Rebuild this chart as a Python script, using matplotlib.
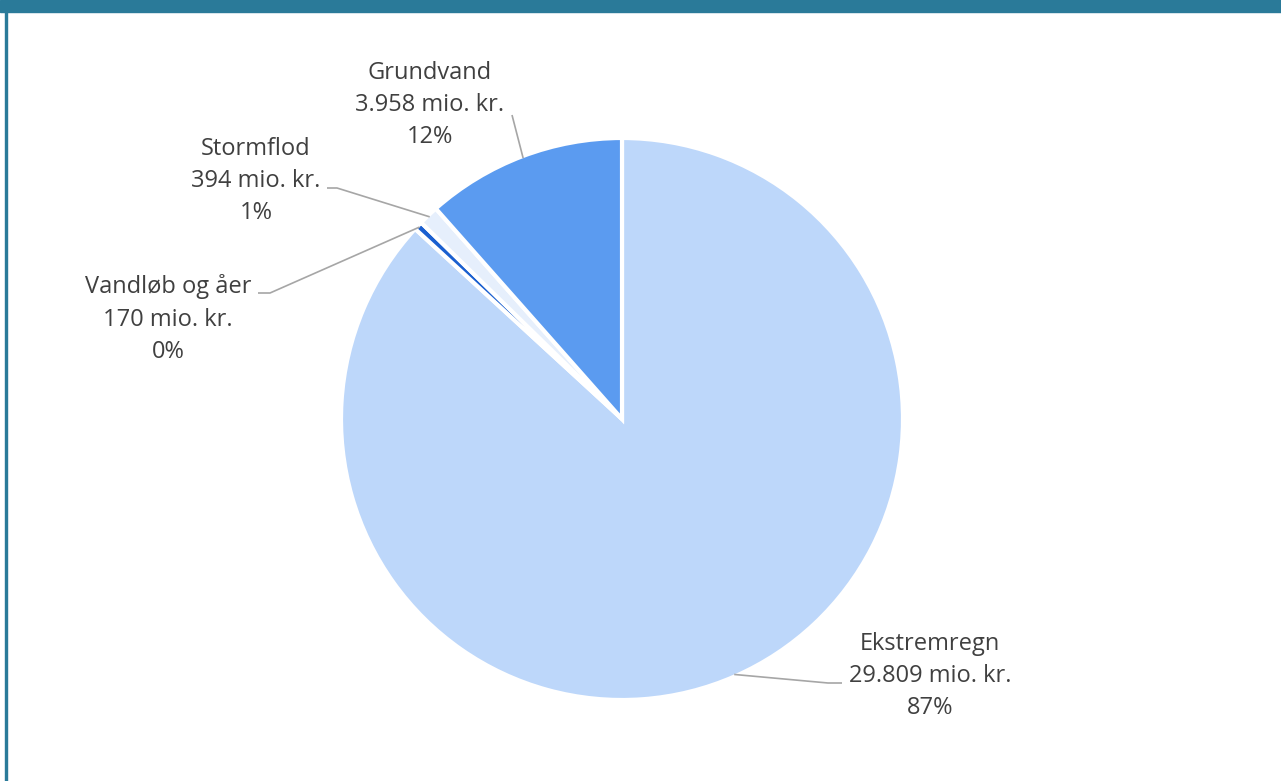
import numpy as np
import matplotlib.pyplot as plt

# damage cost per flood type (mio. kr.), in drawing order clockwise from 12 o'clock
labels = ['Ekstremregn', 'Vandløb og åer', 'Stormflod', 'Grundvand']
values = [29809, 170, 394, 3958]
colors = ['#BDD7FA', '#1A5FD0', '#E6EFFC', '#5B9BF0']

# label text centre (px) and the elbow of each leader line (px)
label_pos = {'Ekstremregn': (930, 676), 'Vandløb og åer': (168, 319),
             'Stormflod': (256, 181), 'Grundvand': (430, 105)}
leader_start = {'Ekstremregn': [(842, 683), (828, 683)],
                'Vandløb og åer': [(258, 293), (270, 293)],
                'Stormflod': [(327, 188), (337, 188)],
                'Grundvand': [(512, 115)]}

W, H = 1281, 781
cx, cy, R = 622, 419, 281

plt.rcParams['font.family'] = ['Open Sans', 'DejaVu Sans']

fig = plt.figure(figsize=(W / 100, H / 100), dpi=100)
ax = fig.add_axes([0, 0, 1, 1])

def py(y):
    return H - y

wedges, _ = ax.pie(values, colors=colors, startangle=90, counterclock=False,
                   center=(cx, py(cy)), radius=R, frame=True,
                   wedgeprops=dict(edgecolor='white', linewidth=3))
ax.set_xlim(0, W)
ax.set_ylim(0, H)
ax.set_aspect('equal')
ax.axis('off')

total = sum(values)
for lab, val, w in zip(labels, values, wedges):
    mid = np.deg2rad((w.theta1 + w.theta2) / 2)
    ex, ey = cx + (R - 2) * np.cos(mid), py(cy) + (R - 2) * np.sin(mid)
    pts = [(x, py(y)) for x, y in leader_start[lab]] + [(ex, ey)]
    xs, ys = zip(*pts)
    ax.plot(xs, ys, color='#A6A6A6', lw=1.2, solid_capstyle='butt')
    tx, ty = label_pos[lab]
    txt = f"{lab}\n{val:,}".replace(',', '.') + f" mio. kr.\n{val / total:.0%}"
    ax.text(tx, py(ty), txt, ha='center', va='center', fontsize=17,
            color='#404040', linespacing=1.45)

# header band and left frame edge
ax.add_patch(plt.Rectangle((0, py(12)), W, 12, color='#2A7A99', clip_on=False))
ax.add_patch(plt.Rectangle((5, 0), 2, py(12), color='#2A7A99', clip_on=False))

fig.savefig('out.png', dpi=100, facecolor='white')
